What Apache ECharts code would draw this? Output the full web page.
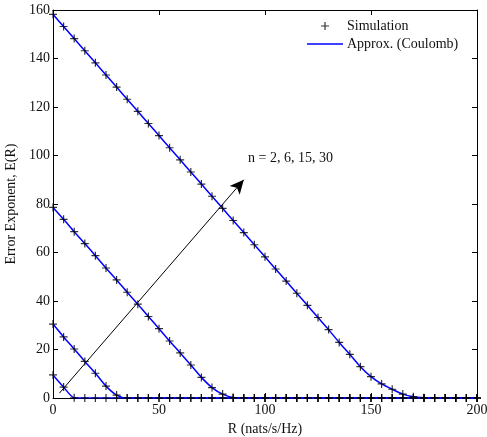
<!DOCTYPE html>
<html>
<head>
<meta charset="utf-8">
<script src="https://cdn.jsdelivr.net/npm/echarts@6/dist/echarts.min.js"></script>
<style>
  html, body { margin: 0; padding: 0; background: #fff; }
  #chart { width: 487px; height: 437px; }
</style>
</head>
<body>
<div id="chart"></div>
<script>
// Rate grid (nats/s/Hz)
const rates = [0, 5, 10, 15, 20, 25, 30, 35, 40, 45, 50, 55, 60, 65, 70, 75, 80, 85, 90, 95,
  100, 105, 110, 115, 120, 125, 130, 135, 140, 145, 150, 155, 160, 165, 170, 175, 180, 185, 190, 195, 200];

// Error exponent E(R) for n = 2, 6, 15, 30
const exponentN2 = [9.5, 4.5, 0.1, 0, 0, 0, 0, 0, 0, 0, 0, 0, 0, 0, 0, 0, 0, 0, 0, 0,
  0, 0, 0, 0, 0, 0, 0, 0, 0, 0, 0, 0, 0, 0, 0, 0, 0, 0, 0, 0, 0];
const exponentN6 = [30.5, 25.2, 20.2, 15.1, 10.2, 4.9, 1.2, 0, 0, 0, 0, 0, 0, 0, 0, 0, 0, 0, 0, 0,
  0, 0, 0, 0, 0, 0, 0, 0, 0, 0, 0, 0, 0, 0, 0, 0, 0, 0, 0, 0, 0];
const exponentN15 = [78.6, 73.7, 68.6, 63.7, 58.7, 53.6, 48.7, 43.6, 38.7, 33.6, 28.6, 23.5, 18.6, 13.6, 8.5, 4.3, 1.6, 0.2, 0, 0,
  0, 0, 0, 0, 0, 0, 0, 0, 0, 0, 0, 0, 0, 0, 0, 0, 0, 0, 0, 0, 0];
const exponentN30 = [158.2, 153.2, 148.2, 143.2, 138.2, 133.2, 128.2, 123.2, 118.2, 113.2, 108.2, 103.2, 98.2, 93.2, 88.2, 83.2, 78.2, 73.2, 68.2, 63.2,
  58.2, 53.2, 48.2, 43.2, 38.2, 33.2, 28.2, 22.9, 18.0, 12.9, 8.8, 5.8, 3.6, 1.6, 0.5, 0.1, 0, 0, 0, 0, 0];

const curves = [exponentN2, exponentN6, exponentN15, exponentN30];

const xTicks = { min: 0, max: 200, interval: 50 };
const yTicks = { min: 0, max: 160, interval: 20 };

const FONT = 'Liberation Serif';
const INK = '#111';
const PLUS = 'path://M0,-1L0,1M-1,0L1,0';
const DASH = 'path://M0,0L36,0L36,1.5L0,1.5Z';

const pair = (ys) => rates.map((r, i) => [r, ys[i]]);

const approxSeries = curves.map((ys) => ({
  name: 'Approx. (Coulomb)',
  type: 'line',
  data: pair(ys),
  showSymbol: false,
  symbol: 'none',
  smooth: 0.25,
  lineStyle: { color: '#0000ff', width: 1.5 },
  itemStyle: { color: '#0000ff' },
  z: 2,
  silent: true
}));

const simSeries = curves.map((ys) => ({
  name: 'Simulation',
  type: 'scatter',
  data: pair(ys),
  symbol: PLUS,
  symbolSize: 8,
  itemStyle: { color: 'transparent', borderColor: '#000', borderWidth: 1.2 },
  z: 3,
  silent: true
}));

// Arrow and annotation indicating growing n
const annotation = {
  type: 'line',
  data: [],
  silent: true,
  markLine: {
    silent: true,
    symbol: ['none', 'arrow'],
    symbolSize: [10, 14],
    label: { show: false },
    lineStyle: { color: '#000', width: 1, type: 'solid' },
    data: [[{ coord: [3, 2] }, { coord: [90, 90] }]]
  },
  markPoint: {
    silent: true,
    symbol: 'circle',
    symbolSize: 0,
    label: {
      show: true,
      position: 'right',
      distance: 0,
      formatter: 'n = 2, 6, 15, 30',
      fontFamily: FONT,
      fontSize: 14,
      color: INK
    },
    data: [{ coord: [92, 98.8] }]
  }
};

const axisCommon = {
  type: 'value',
  axisLine: { show: true, onZero: false, lineStyle: { color: '#000', width: 1 } },
  axisTick: { show: true, inside: true, length: 5, lineStyle: { color: '#000' } },
  splitLine: { show: false },
  axisLabel: { fontFamily: FONT, fontSize: 14, color: INK }
};

const chart = echarts.init(document.getElementById('chart'), null, { renderer: 'canvas' });
chart.setOption({
  animation: false,
  backgroundColor: '#fff',
  grid: { left: 53, right: 10, top: 10, bottom: 39, containLabel: false, outerBoundsMode: 'none' },
  legend: {
    orient: 'vertical',
    left: 307,
    top: 19,
    padding: 0,
    itemGap: 4,
    itemWidth: 36,
    itemHeight: 8,
    textStyle: { fontFamily: FONT, fontSize: 14, color: INK, padding: [0, 0, 0, -1] },
    data: [
      { name: 'Simulation', icon: PLUS, itemStyle: { color: 'transparent', borderColor: '#000', borderWidth: 1.2 } },
      { name: 'Approx. (Coulomb)', icon: DASH, itemStyle: { color: '#0000ff', borderWidth: 0 } }
    ]
  },
  xAxis: [
    Object.assign({}, axisCommon, xTicks, {
      position: 'bottom',
      name: 'R (nats/s/Hz)',
      nameLocation: 'middle',
      nameGap: 21,
      nameTextStyle: { fontFamily: FONT, fontSize: 14, color: INK },
      axisLabel: Object.assign({}, axisCommon.axisLabel, { margin: 5 })
    }),
    Object.assign({}, axisCommon, xTicks, { position: 'top', axisLabel: { show: false } })
  ],
  yAxis: [
    Object.assign({}, axisCommon, yTicks, {
      position: 'left',
      name: 'Error Exponent, E(R)',
      nameLocation: 'middle',
      nameGap: 34,
      nameTextStyle: { fontFamily: FONT, fontSize: 14, color: INK },
      axisLabel: Object.assign({}, axisCommon.axisLabel, { margin: 3 })
    }),
    Object.assign({}, axisCommon, yTicks, { position: 'right', axisLabel: { show: false } })
  ],
  series: approxSeries.concat(simSeries, [annotation])
});
</script>
</body>
</html>
